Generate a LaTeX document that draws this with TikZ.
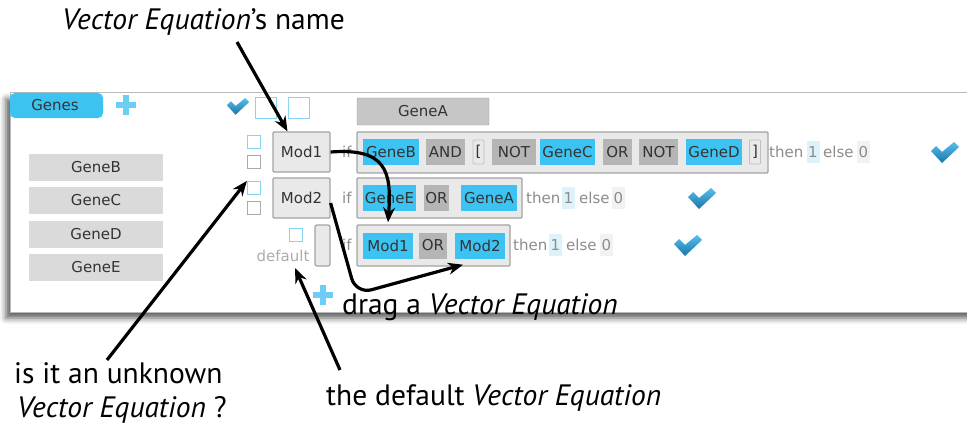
\documentclass[tikz,border=0pt]{standalone}
\usepackage{fontspec}
\setmainfont{PT Sans}
\newfontfamily\uifont{DejaVu Sans}
\usetikzlibrary{arrows.meta,shadows.blur}

\definecolor{tokblue}{HTML}{3DC3F1}
\definecolor{tokgray}{HTML}{B5B5B5}
\definecolor{boxfill}{HTML}{E9E9E9}
\definecolor{boxedge}{HTML}{A3A3A3}
\definecolor{genefill}{HTML}{DADADA}
\definecolor{geneAfill}{HTML}{C6C6C6}
\definecolor{sqblue}{HTML}{86D5F5}
\definecolor{sqgray}{HTML}{ABABAB}
\definecolor{uitext}{HTML}{333333}
\definecolor{softtext}{HTML}{8C8C8C}
\definecolor{onebg}{HTML}{DDF3FC}
\definecolor{zerobg}{HTML}{F2F2F2}
\definecolor{plusblue}{HTML}{6CCEF4}
\definecolor{chktop}{HTML}{56C0EC}
\definecolor{chkbot}{HTML}{1B74A8}

\tikzset{
  ui/.style={font=\uifont\fontsize{15}{17}\selectfont, text=uitext, inner sep=0},
  tok/.style={ui, minimum height=26},
  btok/.style={tok, fill=tokblue},
  gtok/.style={tok, fill=tokgray},
  brk/.style={tok, minimum height=24, minimum width=11, fill=boxfill, draw=boxedge!70, line width=0.8, rounded corners=1},
  rowbox/.style={draw=boxedge, line width=1.2, fill=boxfill, inner sep=0, rounded corners=1},
  soft/.style={ui, text=softtext, anchor=west},
  numbg/.style={ui, text=softtext, minimum width=13, minimum height=22},
  gene/.style={ui, fill=genefill, minimum width=134, minimum height=27},
  sqb/.style={draw=sqblue, line width=1.2, minimum size=13, inner sep=0, fill=white},
  sqg/.style={draw=sqgray, line width=1, minimum size=13, inner sep=0, fill=white},
  modbox/.style={ui, fill=boxfill, draw=boxedge, line width=1.2, minimum width=57, minimum height=40, rounded corners=1},
  ann/.style={font=\fontsize{29.5}{34}\selectfont, inner sep=0, anchor=base west},
  arr/.style={-{Stealth[length=15pt,width=12pt]}, line width=3.2, black},
  chk/.pic={\shade[top color=chktop, bottom color=chkbot]
     (-14,-1) -- (-9,-6) -- (-3,0) -- (9,-10) -- (14,-5) -- (-3,11) -- cycle;},
  plus/.pic={\fill[plusblue] (-10,-3) rectangle (10,3);
             \fill[plusblue] (-3,-10) rectangle (3,10);},
}

\begin{document}
\begin{tikzpicture}[x=1pt, y=-1pt]
\useasboundingbox (0,0) rectangle (967,428);

% editor panel
\path[fill=white, draw=gray!55, line width=1,
  blur shadow={shadow xshift=-4pt, shadow yshift=-6pt, shadow blur radius=6pt, shadow opacity=65}]
  (10,93) rectangle (1000,312);

% tab and header controls
\path[fill=tokblue, rounded corners=5] (10,118) -- (10,93) -- (103,93) [sharp corners] -- (103,106) [rounded corners=5] -- (103,118) -- cycle;
\node[ui] (tab) at (55,105) {Genes};
\pic at (126,105) {plus};
\pic[scale=0.8] at (238,106) {chk};
\node[sqb, minimum size=21] (hsq1) at (266,108) {};
\node[sqb, minimum size=21] (hsq2) at (299,108) {};
\node[ui, fill=geneAfill, draw=gray!75, minimum width=132, minimum height=27, rounded corners=1] (geneA) at (423,111.5) {GeneA};

% gene list
\node[gene] (gB) at (96,167) {GeneB};
\node[gene] (gC) at (96,200) {GeneC};
\node[gene] (gD) at (96,234) {GeneD};
\node[gene] (gE) at (96,267) {GeneE};

% selection squares
\node[sqb] (sqU1) at (254,142) {};
\node[sqg] (sqK1) at (254,162) {};
\node[sqb] (sqU2) at (254,188) {};
\node[sqg] (sqK2) at (254,208) {};
\node[sqb] (sqD) at (296,235) {};
\node[ui, text=gray!65] (dflt) at (283,256) {default};

% equation names
\node[modbox] (mod1) at (301.5,152) {Mod1};
\node[modbox] (mod2) at (301.5,198) {Mod2};
\node[fill=boxfill, draw=boxedge, line width=1.2, minimum width=15, minimum height=41, inner sep=0, rounded corners=2] (mod3) at (322.5,245.5) {};

% row 1
\node[soft] (if1) at (342,152) {if};
\node[rowbox, minimum width=411, minimum height=41] (row1) at (562.5,152.5) {};
\node[btok, minimum width=56] (r1a) at (391,152) {GeneB};
\node[gtok, minimum width=39] (r1b) at (445.5,152) {AND};
\node[brk] (r1c) at (478.5,152) {[};
\node[gtok, minimum width=44] (r1d) at (514,152) {NOT};
\node[btok, minimum width=55] (r1e) at (567.5,152) {GeneC};
\node[gtok, minimum width=29] (r1f) at (617.5,152) {OR};
\node[gtok, minimum width=39] (r1g) at (658.5,152) {NOT};
\node[btok, minimum width=56] (r1h) at (714,152) {GeneD};
\node[brk] (r1i) at (755,152) {]};
\node[soft] (th1) at (769,152) {then};
\node[numbg, fill=onebg] (one1) at (813,152) {1};
\node[soft] (el1) at (823,152) {else};
\node[numbg, fill=zerobg] (zero1) at (863.5,152) {0};
\pic at (945,152) {chk};

% row 2
\node[soft] (if2) at (342,198) {if};
\node[rowbox, minimum width=165, minimum height=40] (row2) at (439.5,198) {};
\node[btok, minimum width=53] (r2a) at (389.5,198) {GeneE};
\node[gtok, minimum width=25] (r2b) at (436.5,198) {OR};
\node[btok, minimum width=56] (r2c) at (489,198) {GeneA};
\node[soft] (th2) at (526,198) {then};
\node[numbg, fill=onebg] (one2) at (568.5,198) {1};
\node[soft] (el2) at (579,198) {else};
\node[numbg, fill=zerobg] (zero2) at (618.5,198) {0};
\pic at (702,198) {chk};

% row 3
\node[soft] (if3) at (342,245) {if};
\node[rowbox, minimum width=153, minimum height=41] (row3) at (433.5,245.5) {};
\node[btok, minimum width=50] (r3a) at (388,245.5) {Mod1};
\node[gtok, minimum width=28] (r3b) at (433,245.5) {OR};
\node[btok, minimum width=50] (r3c) at (480,245.5) {Mod2};
\node[soft] (th3) at (513,245) {then};
\node[numbg, fill=onebg] (one3) at (555.5,245) {1};
\node[soft] (el3) at (566,245) {else};
\node[numbg, fill=zerobg] (zero3) at (606.5,245) {0};
\pic at (688,245) {chk};

\pic at (323,295) {plus};

% annotations
\node[ann] (tName) at (62,30) {\textit{Vector Equation}'s name};
\node[ann] (tUnk1) at (14,383) {is it an unknown};
\node[ann] (tUnk2) at (17,417) {\textit{Vector Equation} ?};
\node[ann] (tDrag) at (342,314) {drag a \textit{Vector Equation}};
\node[ann] (tDef) at (326,405) {the default \textit{Vector Equation}};

\coordinate (s1) at (237,42);
\coordinate (s4) at (107,360);
\coordinate (s5) at (340,370);
\coordinate (bend) at (356,294);

\draw[arr] (s1) -- ([xshift=-14pt]mod1.north);
\draw[arr] (mod1.east) .. controls (385,148) and (392,170) .. ([yshift=10pt]r3a.north);
\draw[arr, rounded corners=16] ([yshift=-5pt]mod2.east) -- (bend) -- ([xshift=-17pt,yshift=-6pt]r3c.south);
\draw[arr] (s4) -- (sqU2.north west);
\draw[arr] (s5) -- ([xshift=12pt,yshift=-6pt]dflt.south);
\end{tikzpicture}
\end{document}
